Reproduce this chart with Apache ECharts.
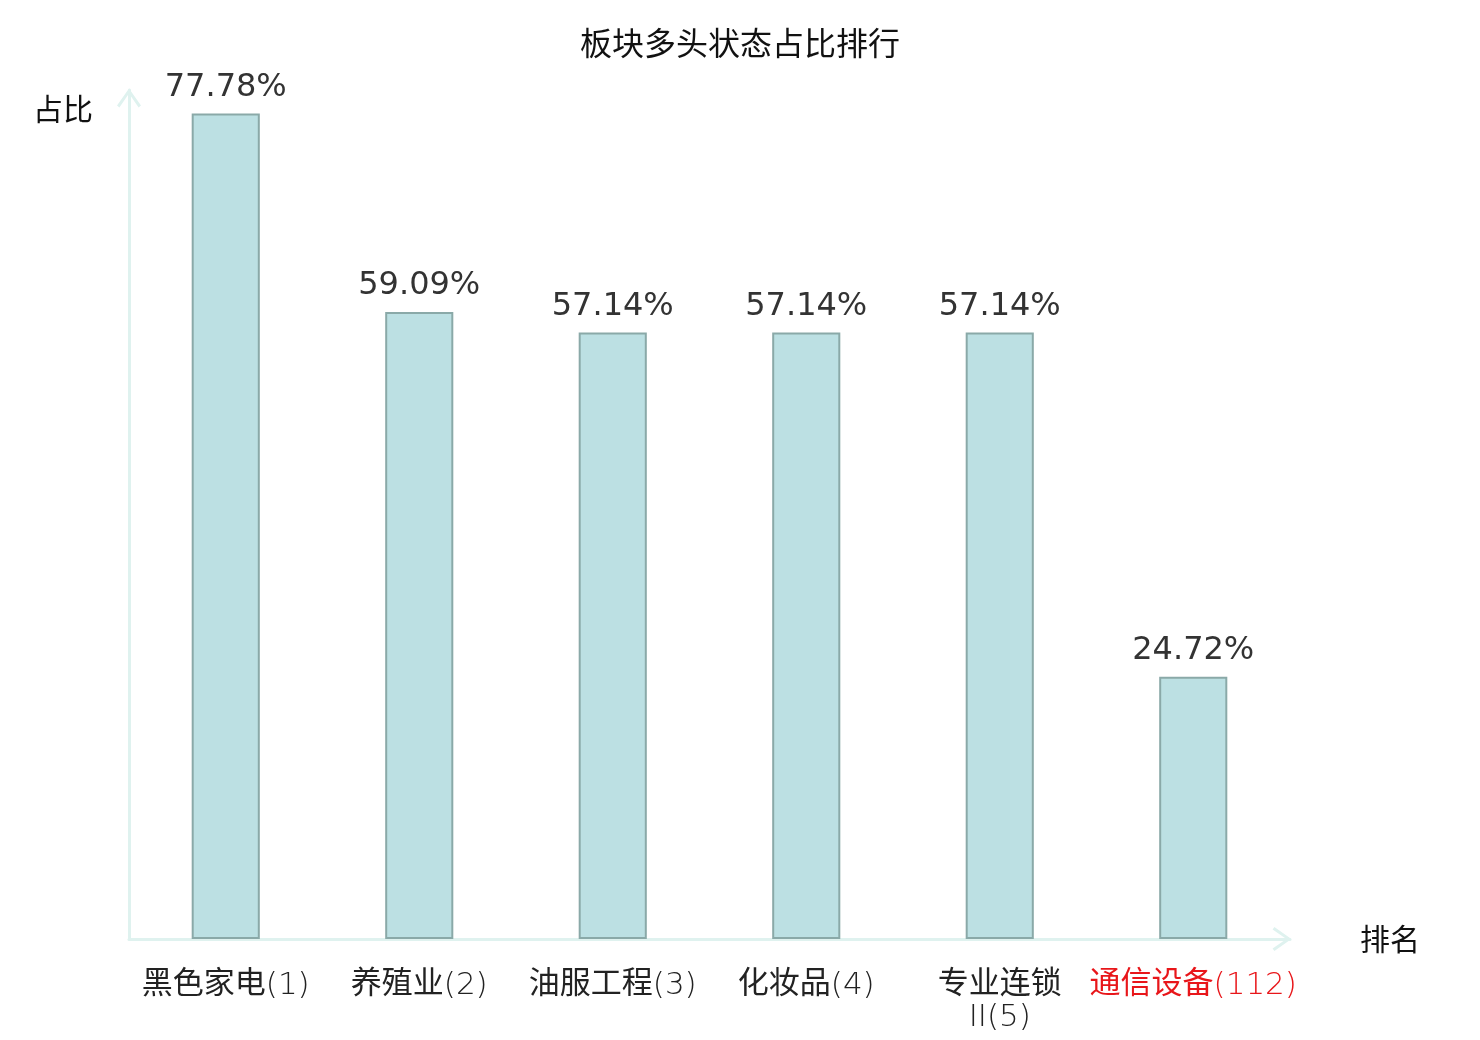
<!DOCTYPE html>
<html lang="zh-cn">
<head>
<meta charset="utf-8">
<title>板块多头状态占比排行</title>
<script src="https://cdn.jsdelivr.net/npm/echarts@6/dist/echarts.min.js"></script>
<style>
  html, body { margin: 0; padding: 0; background: #fff; }
  #container { width: 1480px; height: 1040px; }
</style>
</head>
<body>
<div id="container"></div>
<script>
// 板块名称(排名)
var sectors = ['黑色家电(1)', '养殖业(2)', '油服工程(3)', '化妆品(4)', '专业连锁\nII(5)', '通信设备(112)'];
// 多头状态占比 %
var ratios = [77.78, 59.09, 57.14, 57.14, 57.14, 24.72];
// 需要标红的板块
var highlight = ['通信设备(112)'];

var cjk = 'Noto Sans CJK SC';
var axisColor = '#dff2ef';
// 空心箭头
var chevron = 'path://M0,17 L12,0 L24,17 L21.6,18.8 L12,5 L2.4,18.8 Z';

// 汉字和括号数字分开用不同字体
function labelFmt(v) {
  var red = highlight.indexOf(v) >= 0 ? 'r' : '';
  return v.split('\n').map(function (line) {
    return line.replace(/([\u4e00-\u9fff]+)|([^\u4e00-\u9fff]+)/g, function (m, a) {
      return '{' + (a ? 'c' : 'n') + red + '|' + m + '}';
    });
  }).join('\n');
}

function richStyle(color, latin) {
  return {
    fontFamily: latin ? 'DejaVu Sans' : cjk,
    fontWeight: latin ? 200 : 'normal',
    fontSize: 31,
    lineHeight: 32,
    padding: latin ? 0 : [0, 0, 10, 0],
    color: color
  };
}

var myChart = echarts.init(document.getElementById('container'));
var option = {
  backgroundColor: '#fff',
  animation: false,
  title: {
    text: '板块多头状态占比排行',
    left: 'center',
    top: 22,
    textStyle: { fontFamily: cjk, fontSize: 32, fontWeight: 'normal', color: '#111' }
  },
  grid: { left: 129, right: 190, top: 90, bottom: 101 },
  xAxis: {
    type: 'category',
    data: sectors,
    name: '排名',
    nameLocation: 'end',
    nameGap: 70,
    nameTextStyle: { fontFamily: cjk, fontSize: 30, color: '#111' },
    axisLine: {
      show: true,
      symbol: ['none', chevron],
      symbolSize: [24, 19],
      symbolOffset: [0, -8],
      lineStyle: { color: axisColor, width: 3 }
    },
    axisTick: { show: false },
    axisLabel: {
      interval: 0,
      margin: 31,
      formatter: labelFmt,
      rich: {
        c: richStyle('#222', false),
        n: richStyle('#222', true),
        cr: richStyle('#e8161a', false),
        nr: richStyle('#e8161a', true)
      }
    }
  },
  yAxis: {
    type: 'value',
    min: 0,
    max: 80,
    name: '占比',
    nameLocation: 'end',
    nameGap: -34,
    nameTextStyle: { fontFamily: cjk, fontSize: 30, color: '#111', align: 'right', padding: [0, 36, 0, 0] },
    axisLine: {
      show: true,
      symbol: ['none', chevron],
      symbolSize: [24, 19],
      symbolOffset: [0, -8],
      lineStyle: { color: axisColor, width: 3 }
    },
    axisTick: { show: false },
    axisLabel: { show: false },
    splitLine: { show: false }
  },
  series: [{
    type: 'bar',
    data: ratios,
    barWidth: '35.2%',
    itemStyle: { color: '#bce0e3', borderColor: '#8aa9a8', borderWidth: 2 },
    label: {
      show: true,
      position: 'top',
      distance: 10,
      fontFamily: 'DejaVu Sans',
      fontSize: 32,
      color: '#333',
      formatter: function (p) { return p.value.toFixed(2) + '%'; }
    }
  }]
};
myChart.setOption(option);
</script>
</body>
</html>
